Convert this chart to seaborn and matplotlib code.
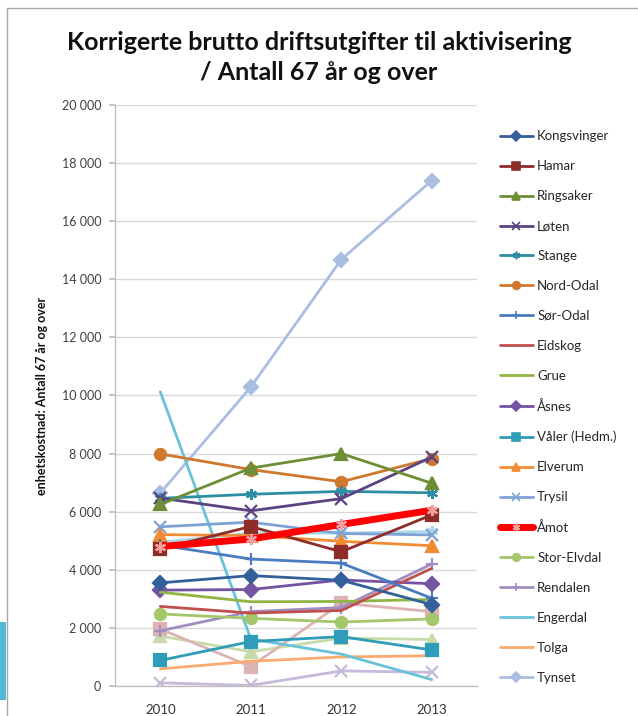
import matplotlib
matplotlib.use("Agg")
import matplotlib.pyplot as plt
import seaborn as sns
import pandas as pd
from matplotlib.lines import Line2D
from matplotlib.patches import Rectangle
from matplotlib.ticker import FuncFormatter

years = [2010, 2011, 2012, 2013]

kongsvinger = [3550, 3800, 3640, 2800]
hamar = [4720, 5490, 4620, 5890]
ringsaker = [6250, 7500, 8000, 6980]
loten = [6470, 6030, 6450, 7880]
stange = [6460, 6600, 6700, 6650]
nord_odal = [7990, 7450, 7030, 7830]
sor_odal = [4850, 4370, 4230, 3020]
eidskog = [2740, 2510, 2600, 4050]
grue = [3230, 2900, 2910, 2980]
asnes = [3300, 3320, 3650, 3520]
valer = [880, 1530, 1700, 1240]
elverum = [5210, 5180, 4980, 4830]
trysil = [5480, 5640, 5250, 5200]
amot = [4800, 5060, 5560, 6050]
stor_elvdal = [2480, 2330, 2200, 2310]
rendalen = [1900, 2560, 2700, 4200]
engerdal = [10130, 1620, 1100, 220]
tolga = [590, 850, 1000, 1040]
tynset = [6640, 10290, 14680, 17400]
alvdal = [1960, 670, 2850, 2560]
folldal = [1720, 1180, 1650, 1600]
os_kommune = [110, 20, 520, 470]
hedmark = [4950, 5260, 5260, 5320]

names = ["Kongsvinger", "Hamar", "Ringsaker", "Løten", "Stange", "Nord-Odal",
         "Sør-Odal", "Eidskog", "Grue", "Åsnes", "Våler (Hedm.)", "Elverum",
         "Trysil", "Åmot", "Stor-Elvdal", "Rendalen", "Engerdal", "Tolga",
         "Tynset", "Alvdal", "Folldal", "Os", "Hedmark"]
values = [kongsvinger, hamar, ringsaker, loten, stange, nord_odal, sor_odal,
          eidskog, grue, asnes, valer, elverum, trysil, amot, stor_elvdal,
          rendalen, engerdal, tolga, tynset, alvdal, folldal, os_kommune, hedmark]
legend_names = names[:19]

ast = (6, 2, 0)
styles = {
    "Kongsvinger": ("#34609A", "D"),
    "Hamar": ("#8E2C2A", "s"),
    "Ringsaker": ("#6C8E34", "^"),
    "Løten": ("#5B4283", "x"),
    "Stange": ("#2E8CA3", ast),
    "Nord-Odal": ("#D0782E", "o"),
    "Sør-Odal": ("#4A7DC0", "+"),
    "Eidskog": ("#C0504D", None),
    "Grue": ("#8FB543", None),
    "Åsnes": ("#7453A3", "D"),
    "Våler (Hedm.)": ("#2F9CBA", "s"),
    "Elverum": ("#F28C34", "^"),
    "Trysil": ("#7FA2D6", "x"),
    "Åmot": ("#FF0000", ast),
    "Stor-Elvdal": ("#A4C76C", "o"),
    "Rendalen": ("#A08EC2", "+"),
    "Engerdal": ("#6AC2DA", None),
    "Tolga": ("#F8AA70", None),
    "Tynset": ("#A9BEE0", "D"),
    "Alvdal": ("#DDB3B2", "s"),
    "Folldal": ("#C8DCAA", "^"),
    "Os": ("#C6B9DA", "x"),
    "Hedmark": ("#ABD9E6", ast),
}

df = pd.DataFrame(
    [(n, y, v) for n, vals in zip(names, values) for y, v in zip(years, vals)],
    columns=["kommune", "år", "kostnad"],
)

sns.set_theme(style="white")
plt.rcParams["font.family"] = ["Lato", "DejaVu Sans"]

fig = plt.figure(figsize=(6.38, 7.16), dpi=100)
ax = fig.add_axes([0.1803, 0.0419, 0.5674, 0.8115])

handles = {}
for n in names[::-1]:
    color, marker = styles[n]
    sub = df[df["kommune"] == n]
    lw = 5.0 if n == "Åmot" else 2.0
    edge = "#F2A0A0" if n == "Åmot" else color
    kw = dict(color=color, linewidth=lw, legend=False, ax=ax,
              zorder=3 if n == "Åmot" else 2)
    if marker is not None:
        kw.update(marker=marker, markersize=7 if marker == "D" else 8,
                  markeredgecolor=edge, markerfacecolor=color, markeredgewidth=1.6)
    sns.lineplot(data=sub, x="år", y="kostnad", **kw)
    handles[n] = Line2D([], [], color=color, linewidth=lw, marker=marker,
                        markersize=5.5, markerfacecolor=color,
                        markeredgecolor=edge, markeredgewidth=1.2)

ax.set_xlim(2009.5, 2013.5)
ax.set_ylim(0, 20000)
ax.set_xticks(years)
ax.set_xticklabels([str(y) for y in years])
ax.set_yticks(range(0, 20001, 2000))
ax.yaxis.set_major_formatter(FuncFormatter(lambda v, p: f"{int(v):,}".replace(",", " ")))
ax.grid(axis="y", color="#D9D9D9", linewidth=1.0)
ax.set_axisbelow(True)
for s in ["top", "right"]:
    ax.spines[s].set_visible(False)
for s in ["left", "bottom"]:
    ax.spines[s].set_color("#BFBFBF")
    ax.spines[s].set_linewidth(1.0)
ax.tick_params(axis="y", which="major", left=True, length=4, color="#BFBFBF",
               labelsize=9, labelcolor="#404040", pad=6)
ax.tick_params(axis="x", bottom=False, labelsize=9.5, labelcolor="#333333", pad=7)
ax.set_xlabel("")
ax.set_ylabel("enhetskostnad: Antall 67 år og over", fontsize=9, fontweight="bold",
              color="#111111", labelpad=10)

fig.text(0.5, 0.941, "Korrigerte brutto driftsutgifter til aktivisering",
         ha="center", va="center", fontsize=18, fontweight="bold", color="#111111")
fig.text(0.5, 0.899, "/ Antall 67 år og over",
         ha="center", va="center", fontsize=18, fontweight="bold", color="#111111")

fig.legend([handles[n] for n in legend_names], legend_names,
           loc="upper left", bbox_to_anchor=(0.783, 0.818), frameon=False,
           fontsize=9.5, handlelength=2.5, handletextpad=0.35,
           labelspacing=1.36, borderaxespad=0, borderpad=0)

# chart border and slide accent
fig.add_artist(Line2D([7 / 638, 7 / 638], [0, 1 - 8 / 716], transform=fig.transFigure,
                      color="#A6A6A6", linewidth=1.0))
fig.add_artist(Line2D([7 / 638, 1], [1 - 8 / 716, 1 - 8 / 716], transform=fig.transFigure,
                      color="#A6A6A6", linewidth=1.0))
fig.add_artist(Rectangle((0, 16 / 716), 6 / 638, 78 / 716, transform=fig.transFigure,
                         color="#4FB9D6", linewidth=0))

fig.savefig("out.png", dpi=100)
